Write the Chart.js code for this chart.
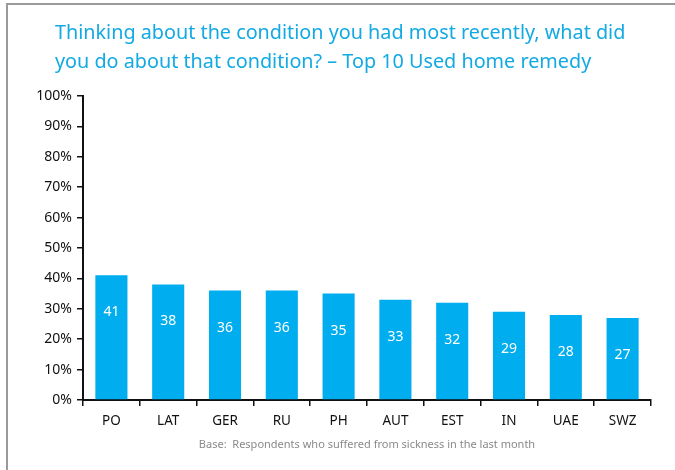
<!DOCTYPE html>
<html>
<head>
<meta charset="utf-8">
<script src="https://cdn.jsdelivr.net/npm/chart.js@4"></script>
<style>
  html, body { margin: 0; padding: 0; background: #fff; }
  #wrap { position: relative; width: 675px; height: 470px; overflow: hidden; }
  #frame { position: absolute; left: 6px; top: 3px; width: 700px; height: 500px;
           border-top: 2px solid #9a9a9a; border-left: 2px solid #9a9a9a; }
  canvas { position: absolute; left: 0; top: 0; }
</style>
</head>
<body>
<div id="wrap">
  <div id="frame"></div>
  <canvas id="chart" width="675" height="470"></canvas>
</div>
<script>
// categories and values (% who used a home remedy)
const countries = ["PO", "LAT", "GER", "RU", "PH", "AUT", "EST", "IN", "UAE", "SWZ"];
const remedyShare = [41, 38, 36, 36, 35, 33, 32, 29, 28, 27];
const titleLines = [
  "Thinking about the condition you had most recently, what did",
  "you do about that condition? \u2013 Top 10 Used home remedy"
];
const footnote = "Base:  Respondents who suffered from sickness in the last month";

const fontFamily = "'Noto Sans', 'Open Sans', sans-serif";
const cyan = "#00adee";

// title, footnote and the white value labels inside bars
const textPlugin = {
  id: "textPlugin",
  afterDraw(chart) {
    const ctx = chart.ctx;
    ctx.save();
    ctx.fillStyle = "#13a9e3";
    ctx.font = "19.8px " + fontFamily;
    ctx.textAlign = "left";
    ctx.textBaseline = "middle";
    ctx.fillText(titleLines[0], 55, 33);
    ctx.fillText(titleLines[1], 55, 62);

    ctx.fillStyle = "#8a8a8a";
    ctx.font = "11px " + fontFamily;
    ctx.textAlign = "center";
    const area = chart.chartArea;
    ctx.fillText(footnote, (area.left + area.right) / 2, 445);

    ctx.fillStyle = "#ffffff";
    ctx.font = "14px " + fontFamily;
    const meta = chart.getDatasetMeta(0);
    meta.data.forEach((bar, i) => {
      ctx.fillText(String(remedyShare[i]), bar.x, bar.y + 37);
    });
    ctx.restore();
  }
};

const ctx = document.getElementById("chart").getContext("2d");
const chart = new Chart(ctx, {
  type: "bar",
  data: {
    labels: countries,
    datasets: [{
      label: "Used home remedy",
      data: remedyShare,
      backgroundColor: cyan,
      borderWidth: 0,
      categoryPercentage: 1,
      barPercentage: 0.565
    }]
  },
  options: {
    responsive: false,
    animation: false,
    layout: { padding: { left: 0, right: 24, top: 96, bottom: 0 } },
    plugins: {
      legend: { display: false },
      tooltip: { enabled: false }
    },
    scales: {
      x: {
        afterFit: (scale) => { scale.height = 70; },
        grid: { display: true, drawOnChartArea: false, drawTicks: true, tickLength: 6, color: "#111", lineWidth: 1.5, offset: true },
        border: { display: true, color: "#111", width: 2 },
        ticks: { color: "#111", font: { family: fontFamily, size: 13.5 }, padding: 7 }
      },
      y: {
        min: 0,
        max: 100,
        afterFit: (scale) => { scale.width = 83; },
        grid: { display: true, drawOnChartArea: false, drawTicks: true, tickLength: 6, color: "#111", lineWidth: 1.5 },
        border: { display: true, color: "#111", width: 2 },
        ticks: {
          stepSize: 10,
          color: "#111",
          font: { family: fontFamily, size: 14 },
          padding: 5,
          callback: (v) => v + "%"
        }
      }
    }
  },
  plugins: [textPlugin]
});
</script>
</body>
</html>
